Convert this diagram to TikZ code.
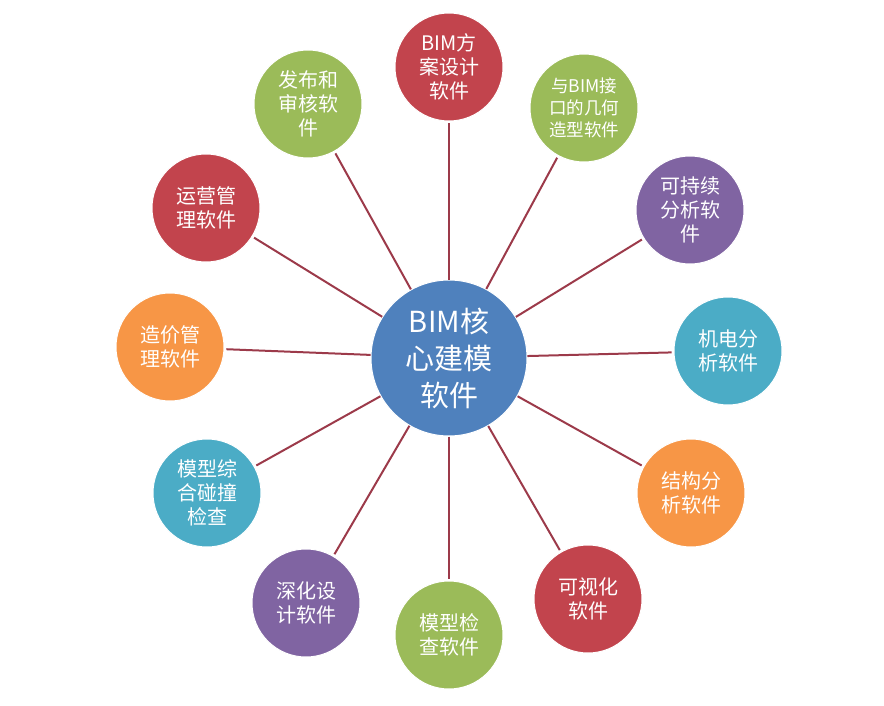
\documentclass[tikz,border=0pt]{standalone}
\usepackage{fontspec}
\newfontfamily\cjk{Noto Sans CJK SC}

\definecolor{bimred}{HTML}{C2444D}
\definecolor{bimgreen}{HTML}{9BBB59}
\definecolor{bimpurple}{HTML}{8064A2}
\definecolor{bimaqua}{HTML}{4BACC6}
\definecolor{bimorange}{HTML}{F79646}
\definecolor{bimblue}{HTML}{4F81BD}
\definecolor{spokecol}{HTML}{9C3A4A}

\begin{document}
\begin{tikzpicture}[x = 1pt, y = -1pt,
		soft/.style = {circle, draw = white, line width = 1pt, text = white, align = center, minimum size = 108pt, inner sep = 0pt, font = \cjk\fontsize{20}{24}\selectfont},
		core/.style = {soft, minimum size = 156pt, font = \cjk\fontsize{29}{37}\selectfont},
		spoke/.style = {draw = spokecol, line width = 2pt, shorten > = 2pt}]
		
		\useasboundingbox (0,0) rectangle (884,706);
		
		\node[core, fill = bimblue] at (449,358) (core) {BIM核\\心建模\\软件};
		\node[soft, fill = bimred] at (449,67) (fa) {BIM方\\案设计\\软件};
		\node[soft, fill = bimgreen, font = \cjk\fontsize{17.5}{22}\selectfont] at (584,108) (jh) {与BIM接\\口的几何\\造型软件};
		\node[soft, fill = bimpurple] at (690,210) (kcx) {可持续\\分析软\\件};
		\node[soft, fill = bimaqua] at (728,351) (jd) {机电分\\析软件};
		\node[soft, fill = bimorange] at (691,493) (jg) {结构分\\析软件};
		\node[soft, fill = bimred] at (588,599) (ksh) {可视化\\软件};
		\node[soft, fill = bimgreen] at (449,635) (mxjc) {模型检\\查软件};
		\node[soft, fill = bimpurple] at (306,603) (sh) {深化设\\计软件};
		\node[soft, fill = bimaqua] at (207,493) (pz) {模型综\\合碰撞\\检查};
		\node[soft, fill = bimorange] at (170,347) (zj) {造价管\\理软件};
		\node[soft, fill = bimred] at (206,208) (yy) {运营管\\理软件};
		\node[soft, fill = bimgreen] at (308,104) (fb) {发布和\\审核软\\件};
		
		\path
		(core) edge[spoke] (fa)
		(core) edge[spoke] (jh)
		(core) edge[spoke] (kcx)
		(core) edge[spoke] (jd)
		(core) edge[spoke] (jg)
		(core) edge[spoke] (ksh)
		(core) edge[spoke] (mxjc)
		(core) edge[spoke] (sh)
		(core) edge[spoke] (pz)
		(core) edge[spoke] (zj)
		(core) edge[spoke] (yy)
		(core) edge[spoke] (fb)
		;
		
		\end{tikzpicture}
\end{document}
